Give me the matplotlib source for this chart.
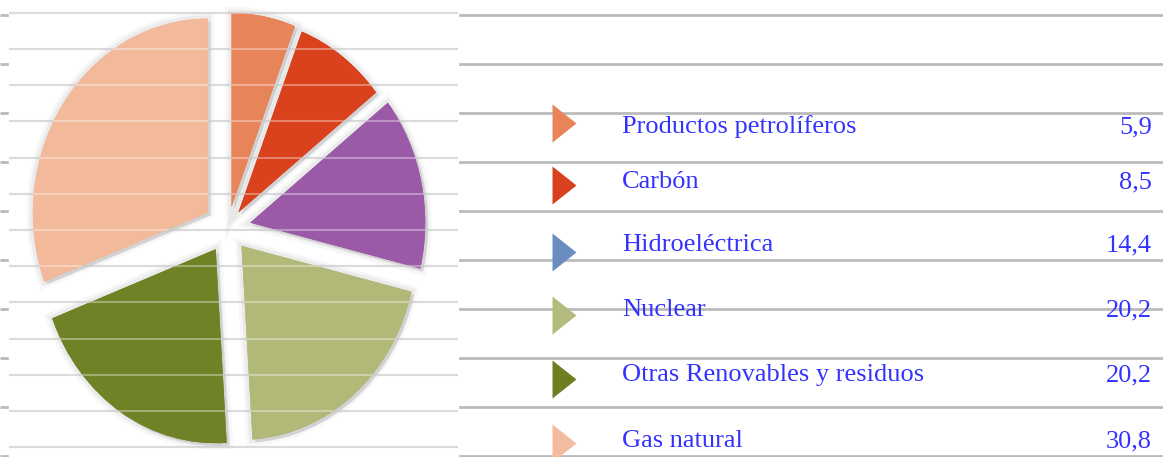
import matplotlib.pyplot as plt
import matplotlib.patheffects as pe
import numpy as np
from matplotlib.patches import Rectangle

# energy mix (%)
labels = ["Productos petrolíferos", "Carbón", "Hidroeléctrica", "Nuclear",
          "Otras Renovables y residuos", "Gas natural"]
values = [5.9, 8.5, 14.4, 20.2, 20.2, 30.8]
pie_colors = ["#e8845a", "#d9421c", "#9a5aa8", "#b1b878", "#6f8326", "#f2b99b"]
marker_colors = ["#e8835a", "#d8401e", "#6b8cc0", "#b5bb7c", "#6e7f22", "#f3bb9f"]

W, H = 1163, 457
fig = plt.figure(figsize=(W / 100, H / 100), dpi=100)
ax = fig.add_axes([0, 0, 1, 1])
ax.set_xlim(0, W)
ax.set_ylim(H, 0)
ax.axis("off")

# table rules, full width (left part is covered by the pie picture)
row_lines = np.arange(15, 460, 49)
ax.hlines(row_lines, 0, W, color="#bbbbbb", lw=2.0, zorder=1)
ax.add_patch(Rectangle((9, -2), 449, H + 4, color="white", zorder=2))

# legend rows
marker_y = [123, 185, 252, 315, 379, 443]
text_y = [127, 182, 245, 310, 375, 441]
tri = [(-0.63, -1), (0.63, 0), (-0.63, 1), (-0.63, -1)]
font = dict(family="Liberation Serif", fontsize=19, color="#3333ff", va="center")
for i, lab in enumerate(labels):
    ax.plot(564, marker_y[i], marker=tri, ms=27.4, color=marker_colors[i],
            mec="none", zorder=3)
    ax.text(622, text_y[i], lab, ha="left", zorder=3, **font)
    ax.text(1152, text_y[i], f"{values[i]:.1f}".replace(".", ","), ha="right",
            zorder=3, **font)

# pie picture
cx, cy, rx, ry = 228, 228, 175, 194
x0, x1 = 9, 458
pax = fig.add_axes([0, 0, 1, 1])
explode = [0.11, 0.1, 0.13, 0.12, 0.13, 0.14]
wedges, _ = pax.pie(values, colors=pie_colors, startangle=90, counterclock=False,
                    explode=explode, wedgeprops=dict(lw=0, zorder=2))
glow = [pe.Stroke(linewidth=9, foreground="#9a9a9a", alpha=0.08),
        pe.Stroke(linewidth=5, foreground="#9a9a9a", alpha=0.12),
        pe.withSimplePatchShadow(offset=(2, -2), shadow_rgbFace="#888888", alpha=0.25),
        pe.Normal()]
for w in wedges:
    w.set_path_effects(glow)
pax.set_aspect("auto")
pax.set_xlim(-cx / rx, (W - cx) / rx)
pax.set_ylim((cy - H) / ry, cy / ry)

pie_lines = np.linspace(13, 447, 13)
xa, xb = (x0 - cx) / rx, (x1 - cx) / rx
pax.hlines((cy - pie_lines) / ry, xa, xb, color="#c8c8c8", lw=1.5, zorder=1)
pax.hlines((cy - pie_lines) / ry, xa, xb, color="white", lw=1.5, alpha=0.35, zorder=3)

fig.savefig("out.png", dpi=100)
